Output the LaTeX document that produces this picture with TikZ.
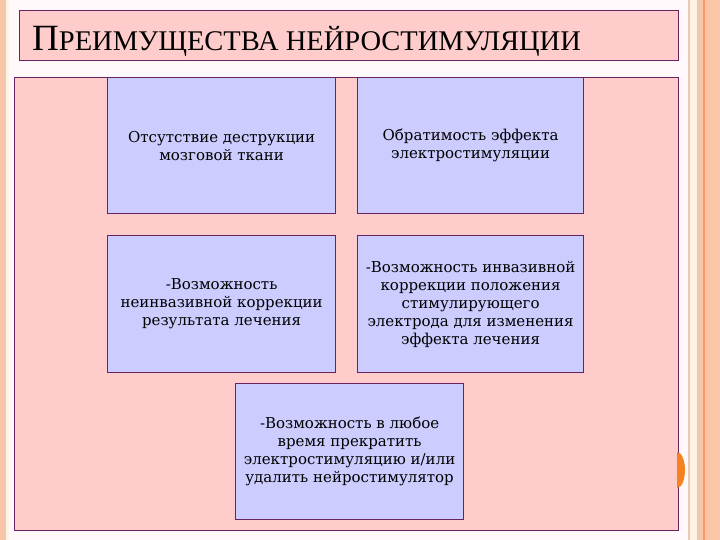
\documentclass[tikz,border=0pt]{standalone}
\usepackage{fontspec}
\setmainfont{Liberation Serif}
\newfontfamily\boxfont{DejaVu Serif}
\definecolor{bgc}{HTML}{FFF9FB}
\definecolor{pinkf}{HTML}{FFCCCC}
\definecolor{lavf}{HTML}{CCCCFF}
\definecolor{edgec}{HTML}{6A2260}
\definecolor{peach}{HTML}{FBC6A8}
\definecolor{cream}{HTML}{FFF3E6}
\definecolor{tan}{HTML}{EDC9B3}
\definecolor{orng}{HTML}{F49A6C}
\definecolor{dot}{HTML}{F5821F}
\tikzset{
  panel/.style={draw=edgec, line width=1.2pt, fill=pinkf},
  card/.style={draw=edgec, line width=1.2pt, fill=lavf, inner sep=0pt},
  cardtext/.style={align=center, font=\boxfont\fontsize{15}{18}\selectfont, inner sep=0pt}
}
\begin{document}
\begin{tikzpicture}[x=1pt,y=-1pt]
\useasboundingbox (0,0) rectangle (720,540);
\fill[bgc] (0,0) rectangle (720,540);
% left strips
\fill[peach] (0,0) rectangle (4,540);
\fill[tan] (4,0) rectangle (6,540);
\fill[cream] (6,0) rectangle (9,540);
% right strips
\fill[tan] (688,0) rectangle (690,540);
\fill[cream] (690,0) rectangle (697,540);
\fill[tan] (697,0) rectangle (700,540);
\fill[peach] (700,0) rectangle (703,540);
\fill[orng] (703,0) rectangle (705,540);
\fill[peach] (705,0) rectangle (720,540);
% title
\node[panel, minimum width=659pt, minimum height=50pt, anchor=north west, inner sep=0pt] (title) at (19,10) {};
\node[anchor=base west, inner sep=0pt] (titletext) at (32,51)
  {\fontsize{37}{37}\selectfont П\fontsize{28.5}{28.5}\selectfont РЕИМУЩЕСТВА НЕЙРОСТИМУЛЯЦИИ};
% main panel
\node[panel, minimum width=664pt, minimum height=453pt, anchor=north west, inner sep=0pt] (main) at (14,77) {};
% orange half dot
\begin{scope}
\clip (677,440) rectangle (700,500);
\fill[dot] (677,470) ellipse (8pt and 18pt);
\end{scope}
% cards
\node[card, minimum width=228pt, minimum height=136pt, anchor=north west] (c1) at (107,77) {};
\node[cardtext] (t1) at (c1.center) {Отсутствие деструкции\\мозговой ткани};
\node[card, minimum width=226pt, minimum height=136pt, anchor=north west] (c2) at (357,77) {};
\node[cardtext] (t2) at (c2.center) {Обратимость эффекта\\электростимуляции};
\node[card, minimum width=228pt, minimum height=137pt, anchor=north west] (c3) at (107,235) {};
\node[cardtext] (t3) at (c3.center) {-Возможность\\неинвазивной коррекции\\результата лечения};
\node[card, minimum width=226pt, minimum height=137pt, anchor=north west] (c4) at (357,235) {};
\node[cardtext] (t4) at (c4.center) {-Возможность инвазивной\\коррекции положения\\стимулирующего\\электрода для изменения\\эффекта лечения};
\node[card, minimum width=228pt, minimum height=136pt, anchor=north west] (c5) at (235,383) {};
\node[cardtext] (t5) at (c5.center) {-Возможность в любое\\время прекратить\\электростимуляцию и/или\\удалить нейростимулятор};
\end{tikzpicture}
\end{document}
